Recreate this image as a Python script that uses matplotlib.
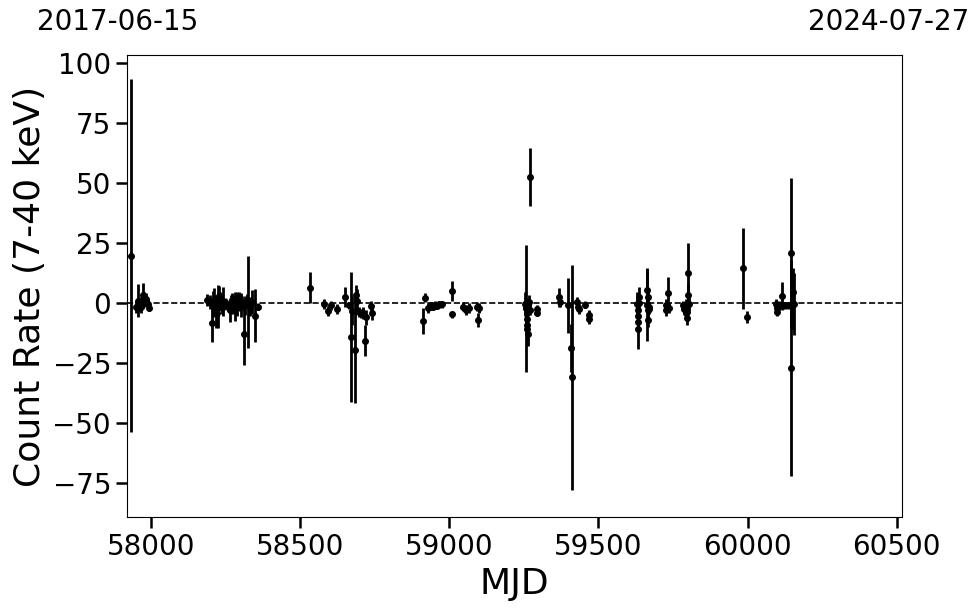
import matplotlib
matplotlib.use("Agg")
import matplotlib.pyplot as plt
import numpy as np

# light curve: MJD, count rate (7-40 keV), 1-sigma error
mjd = np.array([
    57932, 57948, 57955, 57962, 57966, 57970, 57973, 57977, 57982, 57988, 57994,
    58188, 58198, 58205, 58208, 58212, 58216, 58219, 58222, 58224, 58228, 58232,
    58237, 58242, 58247, 58252, 58258, 58264, 58268, 58272, 58276, 58282, 58288,
    58293, 58300, 58305, 58311, 58316, 58320, 58325, 58330, 58338, 58348, 58359,
    58533, 58580, 58594, 58604, 58624, 58651, 58665, 58671, 58674, 58684, 58686,
    58690, 58696, 58705, 58712, 58718, 58722, 58737, 58739,
    58913, 58918, 58929, 58935, 58940, 58946, 58952, 58958, 58966, 58974, 59008,
    59010, 59047, 59056, 59067, 59092, 59097, 59100,
    59255, 59257, 59258, 59259, 59260, 59261, 59262, 59263, 59264, 59266, 59270,
    59272, 59293, 59294, 59369, 59371, 59398, 59408, 59413, 59427, 59430, 59435,
    59455, 59468, 59469,
    59630, 59631, 59632, 59632, 59633, 59635, 59636, 59662, 59664, 59665, 59666,
    59667, 59668, 59670, 59725, 59727, 59730, 59732, 59735, 59785, 59788, 59792,
    59795, 59797, 59798, 59799, 59801, 59803,
    59986, 59997, 60095, 60098, 60100, 60105, 60114, 60120, 60126, 60135, 60145,
    60147, 60150, 60153, 60156])
rate = np.array([
    19.6, -1.7, 1.0, -0.5, -1.7, 0.8, 3.3, 1.5, 1.6, -0.5, -2.0,
    1.2, 0.5, -8.4, 0.8, 0.3, -1.5, -3.6, -4.0, -1.5, 3.0, 1.5,
    -2.0, 0.5, 0.2, -0.4, -1.5, -2.9, -0.8, 0.5, -0.5, -1.5, -0.4,
    0.5, -1.0, 0.0, -13.0, -1.0, 0.8, 0.4, -1.5, 0.4, -5.4, -1.5,
    6.3, -0.4, -3.3, -1.0, -2.5, 2.5, -1.0, -14.1, -3.3, -19.6, 3.3,
    0.6, -3.8, -4.4, -4.2, -15.8, -6.0, -1.2, -4.0,
    -7.4, 2.2, -2.2, -1.5, -1.0, -1.5, -0.8, -1.2, -0.5, -0.6, 5.0,
    -4.7, -1.5, -2.9, -2.2, -1.5, -7.0, -2.2,
    -0.5, -2.0, -2.3, -4.0, -9.2, -6.8, -11.0, -13.0, -1.0, 0.5, 52.4,
    -3.0, -2.4, -4.0, 2.4, 0.2, -1.0, -18.8, -31.0, 0.5, -1.5, -2.5,
    -0.8, -5.0, -6.8,
    -0.5, -3.0, -5.4, -7.8, -11.0, 2.6, 0.0, 5.4, -1.0, 2.6, -3.0,
    -7.0, -1.5, -2.5, -0.8, -3.0, -1.0, 4.2, -2.0, -1.0, -2.5, -4.0,
    -1.5, -3.6, -6.3, 3.3, 12.5, -0.5,
    14.4, -5.7, -0.4, -2.0, -3.6, -1.0, 2.9, -1.0, -1.0, -1.0, 20.7,
    -27.2, -0.4, 4.7, -0.5])
err = np.array([
    73.5, 2.5, 7.0, 3.0, 2.5, 2.0, 5.0, 3.0, 2.5, 2.0, 1.5,
    2.5, 3.0, 8.0, 4.0, 6.0, 3.0, 7.0, 6.0, 9.0, 4.0, 3.0,
    2.5, 6.0, 2.0, 2.0, 2.0, 5.0, 4.0, 3.5, 4.0, 6.0, 5.0,
    4.0, 5.0, 3.0, 13.0, 4.0, 3.0, 19.0, 4.0, 5.0, 11.0, 1.5,
    6.5, 2.0, 2.0, 2.0, 2.0, 4.0, 1.5, 27.0, 6.0, 22.0, 4.0,
    5.0, 2.0, 2.0, 2.5, 6.5, 3.0, 2.0, 3.0,
    5.4, 2.0, 2.0, 1.5, 1.5, 1.5, 1.5, 1.5, 1.5, 1.5, 4.0,
    1.5, 2.0, 2.0, 2.0, 2.0, 3.0, 2.0,
    5.0, 3.0, 26.5, 4.0, 5.0, 3.0, 4.0, 5.0, 3.0, 3.0, 12.0,
    2.0, 1.5, 1.5, 4.0, 2.0, 11.5, 10.0, 47.0, 2.0, 2.0, 2.0,
    1.5, 2.0, 2.0,
    5.0, 4.0, 3.0, 4.0, 8.0, 4.0, 3.0, 9.0, 15.0, 3.0, 2.0,
    3.0, 2.0, 2.0, 2.5, 2.5, 2.0, 6.5, 2.0, 2.0, 2.0, 3.0,
    3.0, 4.0, 3.0, 5.0, 12.4, 3.0,
    17.0, 2.5, 2.0, 2.0, 2.0, 2.0, 6.0, 1.5, 1.5, 1.5, 31.5,
    45.0, 11.0, 10.0, 13.0])

mjd_start, mjd_end = 57919, 60518
date_start, date_end = "2017-06-15", "2024-07-27"

fig = plt.figure(figsize=(9.8, 6.13), dpi=100)
ax = fig.add_axes([0.1296, 0.1566, 0.7908, 0.7537])

ax.errorbar(mjd, rate, yerr=err, fmt='o', color='k', ms=4, elinewidth=2, capsize=0)
ax.axhline(0, color='k', ls='--', lw=1.2)

ax.set_xlim(mjd_start, mjd_end)
ax.set_ylim(-89.2, 103.3)
ax.set_xticks(np.arange(58000, 60501, 500))
ax.set_yticks(np.arange(-75, 101, 25))
ax.tick_params(labelsize=20, length=8, width=1.8)
ax.set_xlabel('MJD', fontsize=26)
ax.set_ylabel('Count Rate (7-40 keV)', fontsize=26)

fig.text(118/980, 1 - 22/613, date_start, fontsize=20, ha='center', va='center')
fig.text(889/980, 1 - 22/613, date_end, fontsize=20, ha='center', va='center')

fig.savefig('out.png', dpi=100)
